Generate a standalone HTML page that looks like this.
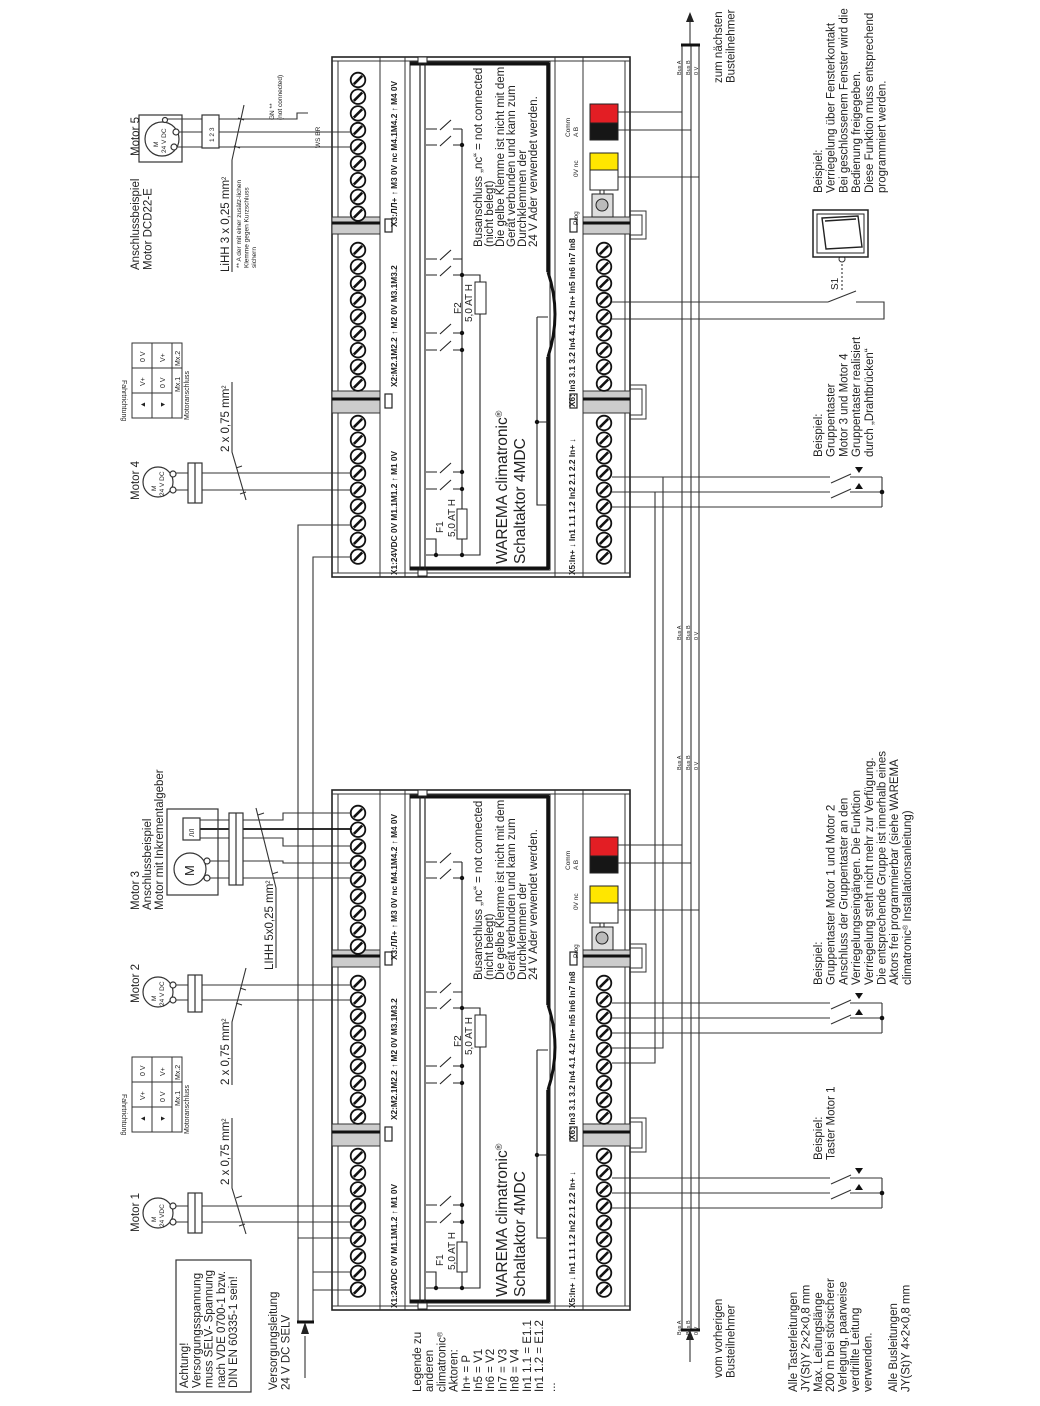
<!DOCTYPE html>
<html><head><meta charset="utf-8"><style>
html,body{margin:0;padding:0;background:#fff}
svg{display:block}
text{font-family:"Liberation Sans",sans-serif;fill:#222}
.b{font-weight:bold;font-size:8.3px}
.s{font-size:11.5px}
.m{font-size:10px}
.t{font-size:6.5px}
</style></head><body>
<svg width="1040" height="1406" viewBox="0 0 1040 1406" xmlns="http://www.w3.org/2000/svg">
<defs>
<g id="tm"><circle r="7.3" fill="#fff" stroke="#111" stroke-width="1.8"/><line x1="-4.2" y1="4.2" x2="4.2" y2="-4.2" stroke="#111" stroke-width="2.6"/></g>
<g id="c9"><use href="#tm" y="0"/><use href="#tm" y="16.7"/><use href="#tm" y="33.4"/><use href="#tm" y="50.1"/><use href="#tm" y="66.8"/><use href="#tm" y="83.5"/><use href="#tm" y="100.2"/><use href="#tm" y="116.9"/><use href="#tm" y="133.6"/></g>
<g id="dev">
<rect x="332" y="0" width="298" height="520" fill="#fff" stroke="#222" stroke-width="1.6"/>
<g stroke="#333" stroke-width="1" fill="none">
<line x1="332" y1="4" x2="630" y2="4"/><line x1="332" y1="516" x2="630" y2="516"/>
<line x1="338" y1="4" x2="338" y2="516"/><line x1="380" y1="0" x2="380" y2="520"/><line x1="405" y1="0" x2="405" y2="520"/>
<line x1="555" y1="0" x2="555" y2="520"/><line x1="583" y1="0" x2="583" y2="520"/><line x1="625" y1="4" x2="625" y2="516"/>
</g>
<rect x="332" y="160" width="48" height="17" fill="#ccc" stroke="#333"/><line x1="332" y1="166" x2="380" y2="166" stroke="#111" stroke-width="3"/>
<rect x="332" y="334" width="48" height="22" fill="#ccc" stroke="#333"/><line x1="332" y1="342" x2="380" y2="342" stroke="#111" stroke-width="3"/>
<rect x="583" y="160" width="47" height="17" fill="#ccc" stroke="#333"/><line x1="583" y1="166" x2="630" y2="166" stroke="#111" stroke-width="3"/>
<rect x="583" y="334" width="47" height="22" fill="#ccc" stroke="#333"/><line x1="583" y1="342" x2="630" y2="342" stroke="#111" stroke-width="3"/>
<path d="M630 154 H646 V182 H630 M630 158 H642 V178 H630" fill="none" stroke="#333"/>
<path d="M630 328 H646 V362 H630 M630 332 H642 V358 H630" fill="none" stroke="#333"/>
<rect x="385" y="162" width="7" height="13" fill="#fff" stroke="#222" stroke-width="1.2"/>
<rect x="385" y="337" width="7" height="14" fill="#fff" stroke="#222" stroke-width="1.2"/>
<rect x="570" y="162" width="7" height="13" fill="#fff" stroke="#222" stroke-width="1.2"/>
<rect x="570" y="337" width="7" height="14" fill="#fff" stroke="#222" stroke-width="1.2"/>
<rect x="410" y="5" width="140" height="508" fill="none" stroke="#222"/>
<line x1="410" y1="7" x2="549" y2="7" stroke="#111" stroke-width="3"/>
<line x1="410" y1="511" x2="549" y2="511" stroke="#111" stroke-width="3"/>
<line x1="548" y1="6" x2="548" y2="215" stroke="#111" stroke-width="3.5"/>
<line x1="548" y1="300" x2="548" y2="512" stroke="#111" stroke-width="3.5"/>
<path d="M548 215 Q562 257 548 300" fill="none" stroke="#111" stroke-width="3"/>
<line x1="420" y1="5" x2="420" y2="513" stroke="#222" stroke-width="1.2"/><line x1="425" y1="5" x2="425" y2="513" stroke="#222" stroke-width="1.2"/>
<rect x="418" y="0" width="9" height="6" fill="#fff" stroke="#222"/><rect x="418" y="513" width="9" height="6" fill="#fff" stroke="#222"/>
<g stroke="#222" stroke-width="1.1" fill="none">
<path d="M426 72H437M440 73L451 63M453 72H462"/><path d="M426 88H437M440 89L451 79M453 88H462"/>
<path d="M426 202H437M440 203L451 193M453 202H462"/><path d="M426 218H437M440 219L451 209M453 218H462"/>
<path d="M426 276H437M440 277L451 267M453 276H462"/><path d="M426 293H437M440 294L451 284M453 293H462"/>
<path d="M426 415H437M440 416L451 406M453 415H462"/><path d="M426 432H437M440 433L451 423M453 432H462"/>
<line x1="462" y1="72" x2="462" y2="498"/>
<path d="M426 482H436V498M426 498H480V257M480 225V218H462"/>
<path d="M537 260H548M537 260V448H548M537 365H548"/>
</g>
<rect x="457" y="452" width="10" height="30" fill="#fff" stroke="#222"/>
<rect x="475" y="225" width="11" height="32" fill="#fff" stroke="#222"/>
<g fill="#111"><circle cx="462" cy="88" r="2.2"/><circle cx="462" cy="218" r="2.2"/><circle cx="462" cy="276" r="2.2"/><circle cx="462" cy="293" r="2.2"/><circle cx="462" cy="415" r="2.2"/><circle cx="462" cy="432" r="2.2"/><circle cx="462" cy="498" r="2.2"/><circle cx="436" cy="498" r="2.2"/><circle cx="537" cy="365" r="2.2"/></g>
<rect x="590" y="47" width="28" height="19" fill="#e31e24" stroke="#222"/>
<rect x="590" y="66" width="28" height="17" fill="#161616" stroke="#222"/>
<rect x="590" y="96" width="28" height="17" fill="#ffe600" stroke="#222"/>
<rect x="590" y="113" width="28" height="20" fill="#fff" stroke="#222"/>
<rect x="592" y="137" width="21" height="23" fill="#ddd" stroke="#222"/>
<circle cx="602" cy="148" r="6" fill="#bbb" stroke="#222"/>
<rect x="600" y="133" width="4" height="4" fill="#fff" stroke="#222"/>
<use href="#c9" x="358" y="23"/><use href="#c9" x="358" y="193"/><use href="#c9" x="358" y="366"/>
<use href="#c9" x="604" y="193"/><use href="#c9" x="604" y="366"/>
</g>
</defs>

<use href="#dev" y="790"/>
<use href="#dev" y="57"/>

<g transform="translate(0,790)">
<text class="b" transform="translate(397,518) rotate(-90)">X1:24VDC     0V     M1.1M1.2  ↑  M1  0V</text>
<text class="b" transform="translate(397,330) rotate(-90)">X2:M2.1M2.2  ↑  M2  0V M3.1M3.2</text>
<text class="b" transform="translate(397,170) rotate(-90)">X3:ЛЛ+ ↑ M3  0V  nc  M4.1M4.2  ↑  M4  0V</text>
<text class="b" transform="translate(575,518) rotate(-90)">X5:In+ ↓  In1 1.1 1.2  In2 2.1 2.2  In+ ↓</text>
<text class="b" transform="translate(575,350) rotate(-90)">X6: In3 3.1 3.2  In4 4.1 4.2  In+ In5 In6 In7 In8</text>
<text class="t" transform="translate(578,168) rotate(-90)">Prog</text>
<text class="t" transform="translate(578,120) rotate(-90)">0V    nc</text>
<text class="t" transform="translate(570,80) rotate(-90)">Comm</text>
<text class="t" transform="translate(578,80) rotate(-90)">A    B</text>
<text class="s" transform="translate(482,190) rotate(-90)"><tspan x="0">Busanschluss „nc“ = not connected</tspan><tspan x="0" dy="11">(nicht belegt)</tspan><tspan x="0" dy="11">Die gelbe Klemme ist nicht mit dem</tspan><tspan x="0" dy="11">Gerät verbunden und kann zum</tspan><tspan x="0" dy="11">Durchklemmen der</tspan><tspan x="0" dy="11">24 V Ader verwendet werden.</tspan></text>
<text style="font-size:15.5px" transform="translate(507,507) rotate(-90)">WAREMA climatronic<tspan baseline-shift="super" font-size="9">®</tspan></text>
<text style="font-size:15.5px" transform="translate(525,507) rotate(-90)">Schaltaktor 4MDC</text>
<text class="m" transform="translate(461,257) rotate(-90)">F2</text>
<text class="m" transform="translate(472,265) rotate(-90)">5,0 AT H</text>
<text class="m" transform="translate(443,476) rotate(-90)">F1</text>
<text class="m" transform="translate(455,480) rotate(-90)">5,0 AT H</text>
</g>
<g transform="translate(0,57)">
<text class="b" transform="translate(397,518) rotate(-90)">X1:24VDC     0V     M1.1M1.2  ↑  M1  0V</text>
<text class="b" transform="translate(397,330) rotate(-90)">X2:M2.1M2.2  ↑  M2  0V M3.1M3.2</text>
<text class="b" transform="translate(397,170) rotate(-90)">X3:ЛЛ+ ↑ M3  0V  nc  M4.1M4.2  ↑  M4  0V</text>
<text class="b" transform="translate(575,518) rotate(-90)">X5:In+ ↓  In1 1.1 1.2  In2 2.1 2.2  In+ ↓</text>
<text class="b" transform="translate(575,350) rotate(-90)">X6: In3 3.1 3.2  In4 4.1 4.2  In+ In5 In6 In7 In8</text>
<text class="t" transform="translate(578,168) rotate(-90)">Prog</text>
<text class="t" transform="translate(578,120) rotate(-90)">0V    nc</text>
<text class="t" transform="translate(570,80) rotate(-90)">Comm</text>
<text class="t" transform="translate(578,80) rotate(-90)">A    B</text>
<text class="s" transform="translate(482,190) rotate(-90)"><tspan x="0">Busanschluss „nc“ = not connected</tspan><tspan x="0" dy="11">(nicht belegt)</tspan><tspan x="0" dy="11">Die gelbe Klemme ist nicht mit dem</tspan><tspan x="0" dy="11">Gerät verbunden und kann zum</tspan><tspan x="0" dy="11">Durchklemmen der</tspan><tspan x="0" dy="11">24 V Ader verwendet werden.</tspan></text>
<text style="font-size:15.5px" transform="translate(507,507) rotate(-90)">WAREMA climatronic<tspan baseline-shift="super" font-size="9">®</tspan></text>
<text style="font-size:15.5px" transform="translate(525,507) rotate(-90)">Schaltaktor 4MDC</text>
<text class="m" transform="translate(461,257) rotate(-90)">F2</text>
<text class="m" transform="translate(472,265) rotate(-90)">5,0 AT H</text>
<text class="m" transform="translate(443,476) rotate(-90)">F1</text>
<text class="m" transform="translate(455,480) rotate(-90)">5,0 AT H</text>
</g>

<g stroke="#333" stroke-width="1.1" fill="none">
<line x1="682" y1="45" x2="682" y2="1330"/><line x1="691" y1="45" x2="691" y2="1330"/><line x1="699" y1="45" x2="699" y2="1330"/>
<line x1="690" y1="45" x2="690" y2="18"/><line x1="690" y1="1362" x2="690" y2="1336"/>
<path d="M618 112H682M618 130H691M618 177H699"/>
<path d="M618 845H682M618 863H691M618 910H699"/>
<path d="M298 1322V525H352M313 1322V557H352M298 1238H352M313 1272H352M313 1290H352"/>
<line x1="305" y1="1378" x2="305" y2="1336"/>
<path d="M173 1206H352M173 1222H352M173 473H352M173 490H352M173 985H352M173 1000H352"/>
<path d="M232 1118V1188L246 1234M236 1198l6 -2M239 1226l6 -2"/>
<path d="M232 382V452L246 500M236 468l6 -2M240 494l6 -2"/>
<path d="M232 1085V1022L246 968M236 1003l6 2M240 988l6 2"/>
<path d="M200 820H283V813H352M200 838H283V846H352M200 861H283V863H352M200 878H352"/>
<path d="M256 808L276 888M258 815l6-2M272 874l6-2M276 888V968"/>
<path d="M165 119H297V113H308M176 132H352M174 147H352"/>
<path d="M244 105L232 160V272M238 118l6 2M234 146l6 2"/>
<path d="M612 1003H830M850 1003H882M612 1018H830M850 1018H882M612 1033H882M882 1003V1033"/>
<path d="M831 1009L851 1000M831 1024L851 1015"/>
<path d="M612 1178H830M850 1178H882M612 1193H830M850 1193H882M612 1208H882M882 1178V1208"/>
<path d="M831 1184L851 1175M831 1199L851 1190"/>
<path d="M612 1048H663V477H612M612 1063H655V492H612"/>
<path d="M612 477H830M850 477H882M612 492H830M850 492H882M612 507H882M882 477V507"/>
<path d="M831 483L851 474M831 498L851 489"/>
<path d="M612 302H828M856 302H884V319H612M828 302L856 291"/>
<path d="M842 290V262" stroke-dasharray="2 2"/>
</g>
<g stroke="#111" stroke-width="3"><line x1="681" y1="45" x2="700" y2="45"/><line x1="681" y1="1330" x2="700" y2="1330"/><line x1="297" y1="1322" x2="314" y2="1322"/><line x1="200" y1="829" x2="352" y2="829" stroke-width="1.8"/></g>
<polygon points="690,12 686,22 694,22" fill="#222"/>
<polygon points="690,1330 686,1340 694,1340" fill="#222"/>
<polygon points="305,1322 301,1334 309,1334" fill="#222"/>
<g fill="#111"><circle cx="882" cy="1018" r="2.3"/><circle cx="882" cy="1193" r="2.3"/><circle cx="882" cy="492" r="2.3"/>
<polygon points="855,993 863,993 859,999"/><polygon points="855,1015 863,1015 859,1009"/>
<polygon points="855,1168 863,1168 859,1174"/><polygon points="855,1190 863,1190 859,1184"/>
<polygon points="855,467 863,467 859,473"/><polygon points="855,489 863,489 859,483"/></g>
<circle cx="842" cy="259" r="3" fill="#fff" stroke="#333"/>
<rect x="813" y="210" width="55" height="47" fill="#fff" stroke="#222" stroke-width="1.5"/>
<rect x="817" y="214" width="47" height="39" fill="none" stroke="#222"/>
<path d="M822 218L858 216L862 247L826 249Z M825 221L856 219" fill="none" stroke="#222" stroke-width="1.4"/>
<text class="m" transform="translate(838,290) rotate(-90)">S1</text>

<g class="t" style="font-size:5.5px">
<text transform="translate(681,75) rotate(-90)">Bus A</text><text transform="translate(690,75) rotate(-90)">Bus B</text><text transform="translate(698,75) rotate(-90)">0 V</text>
<text transform="translate(681,640) rotate(-90)">Bus A</text><text transform="translate(690,640) rotate(-90)">Bus B</text><text transform="translate(698,640) rotate(-90)">0 V</text>
<text transform="translate(681,770) rotate(-90)">Bus A</text><text transform="translate(690,770) rotate(-90)">Bus B</text><text transform="translate(698,770) rotate(-90)">0 V</text>
<text transform="translate(681,1335) rotate(-90)">Bus A</text><text transform="translate(690,1335) rotate(-90)">Bus B</text><text transform="translate(698,1335) rotate(-90)">0 V</text>
</g>

<g stroke="#333" stroke-width="1.2" fill="#fff">
<circle cx="158" cy="1213" r="15"/><circle cx="173" cy="1206" r="3"/><circle cx="173" cy="1222" r="3"/><rect x="188" y="1193" width="14" height="40"/><line x1="195" y1="1193" x2="195" y2="1233"/>
<circle cx="158" cy="992" r="15"/><circle cx="173" cy="985" r="3"/><circle cx="173" cy="1000" r="3"/><rect x="188" y="975" width="14" height="37"/><line x1="195" y1="975" x2="195" y2="1012"/>
<circle cx="158" cy="482" r="15"/><circle cx="173" cy="474" r="3"/><circle cx="173" cy="490" r="3"/><rect x="188" y="463" width="14" height="40"/><line x1="195" y1="463" x2="195" y2="503"/>
<rect x="139" y="115" width="43" height="47" fill="none"/><circle cx="162" cy="139" r="17"/><circle cx="165" cy="120" r="2.5"/><circle cx="176" cy="132" r="3"/><circle cx="174" cy="147" r="3"/><rect x="202" y="115" width="17" height="33"/>
<rect x="167" y="809" width="51" height="86" fill="none"/><circle cx="190" cy="869" r="16"/><circle cx="207" cy="861" r="3"/><circle cx="207" cy="878" r="3"/><rect x="183" y="818" width="17" height="22"/><rect x="229" y="813" width="14" height="72"/><line x1="236" y1="813" x2="236" y2="885"/>
</g>
<g class="t">
<text transform="translate(156,1222) rotate(-90)">M</text><text transform="translate(164,1227) rotate(-90)">24 VDC</text>
<text transform="translate(156,1001) rotate(-90)">M</text><text transform="translate(164,1006) rotate(-90)">24 V DC</text>
<text transform="translate(156,491) rotate(-90)">M</text><text transform="translate(164,496) rotate(-90)">24 V DC</text>
<text transform="translate(158,147) rotate(-90)">M</text><text transform="translate(166,153) rotate(-90)">24 V DC</text>
<text transform="translate(214,142) rotate(-90)">1  2  3</text>
</g>
<text style="font-size:13px" transform="translate(194,876) rotate(-90)">M</text>
<text class="t" transform="translate(194,837) rotate(-90)">ЛЛ</text>

<g id="tb" stroke="#333" fill="none">
<rect x="132" y="343" width="50" height="75"/><line x1="152" y1="343" x2="152" y2="418"/><line x1="172" y1="343" x2="172" y2="418"/><line x1="132" y1="368" x2="182" y2="368"/><line x1="132" y1="393" x2="172" y2="393"/>
</g>
<g class="t" style="font-size:7px">
<text transform="translate(145,362) rotate(-90)">0 V</text><text transform="translate(165,362) rotate(-90)">V+</text>
<text transform="translate(145,386) rotate(-90)">V+</text><text transform="translate(165,388) rotate(-90)">0 V</text>
<text transform="translate(145,408) rotate(-90)">▲</text><text transform="translate(165,408) rotate(-90)">▼</text>
<text transform="translate(180,366) rotate(-90)">Mx.2</text><text transform="translate(180,392) rotate(-90)">Mx.1</text>
<text transform="translate(189,420) rotate(-90)">Motoranschluss</text>
<text transform="translate(122,380) rotate(90)">Fahrtrichtung</text>
</g>
<use href="#tb" y="714"/>
<g class="t" style="font-size:7px" transform="translate(0,714)">
<text transform="translate(145,362) rotate(-90)">0 V</text><text transform="translate(165,362) rotate(-90)">V+</text>
<text transform="translate(145,386) rotate(-90)">V+</text><text transform="translate(165,388) rotate(-90)">0 V</text>
<text transform="translate(145,408) rotate(-90)">▲</text><text transform="translate(165,408) rotate(-90)">▼</text>
<text transform="translate(180,366) rotate(-90)">Mx.2</text><text transform="translate(180,392) rotate(-90)">Mx.1</text>
<text transform="translate(189,420) rotate(-90)">Motoranschluss</text>
<text transform="translate(122,380) rotate(90)">Fahrtrichtung</text>
</g>

<g class="s">
<text transform="translate(139,1232) rotate(-90)">Motor 1</text>
<text transform="translate(139,1003) rotate(-90)">Motor 2</text>
<text transform="translate(139,910) rotate(-90)"><tspan x="0">Motor 3</tspan><tspan x="0" dy="12">Anschlussbeispiel</tspan><tspan x="0" dy="12">Motor mit Inkrementalgeber</tspan></text>
<text transform="translate(139,500) rotate(-90)">Motor 4</text>
<text transform="translate(139,270) rotate(-90)"><tspan x="0">Anschlussbeispiel</tspan><tspan x="0" dy="12.5">Motor DCD22-E</tspan></text>
<text transform="translate(139,156) rotate(-90)">Motor 5</text>
<text transform="translate(229,1185) rotate(-90)">2 x 0,75 mm<tspan baseline-shift="super" font-size="6">2</tspan></text>
<text transform="translate(229,1085) rotate(-90)">2 x 0,75 mm<tspan baseline-shift="super" font-size="6">2</tspan></text>
<text transform="translate(229,452) rotate(-90)">2 x 0,75 mm<tspan baseline-shift="super" font-size="6">2</tspan></text>
<text transform="translate(273,970) rotate(-90)">LIHH 5x0,25 mm<tspan baseline-shift="super" font-size="6">2</tspan></text>
<text transform="translate(229,272) rotate(-90)">LiHH 3 x 0,25 mm<tspan baseline-shift="super" font-size="6">2</tspan></text>
<text transform="translate(188,1388) rotate(-90)"><tspan x="0">Achtung!</tspan><tspan x="0" dy="12.3">Versorgungsspannung</tspan><tspan x="0" dy="12.3">muss SELV- Spannung</tspan><tspan x="0" dy="12.3">nach VDE 0700-1 bzw.</tspan><tspan x="0" dy="12.3">DIN EN 60335-1 sein!</tspan></text>
<text transform="translate(277,1390) rotate(-90)"><tspan x="0">Versorgungsleitung</tspan><tspan x="0" dy="12.3">24 V DC SELV</tspan></text>
<text transform="translate(421,1392) rotate(-90)"><tspan x="0">Legende zu</tspan><tspan x="0" dy="12.2">anderen</tspan><tspan x="0" dy="12.2">climatronic<tspan baseline-shift="super" font-size="7">®</tspan></tspan><tspan x="0" dy="12.2">Aktoren:</tspan><tspan x="0" dy="12.2">In+ = P</tspan><tspan x="0" dy="12.2">In5 = V1</tspan><tspan x="0" dy="12.2">In6 = V2</tspan><tspan x="0" dy="12.2">In7 = V3</tspan><tspan x="0" dy="12.2">In8 = V4</tspan><tspan x="0" dy="12.2">In1 1.1 = E1.1</tspan><tspan x="0" dy="12.2">In1 1.2 = E1.2</tspan><tspan x="0" dy="12.2">...</tspan></text>
<text transform="translate(722,1378) rotate(-90)"><tspan x="0">vom vorherigen</tspan><tspan x="0" dy="12.5">Busteilnehmer</tspan></text>
<text transform="translate(722,83) rotate(-90)"><tspan x="0">zum nächsten</tspan><tspan x="0" dy="12.5">Busteilnehmer</tspan></text>
<text transform="translate(797,1392) rotate(-90)"><tspan x="0">Alle Tasterleitungen</tspan><tspan x="0" dy="12.4">JY(St)Y 2×2×0,8 mm</tspan><tspan x="0" dy="12.4">Max. Leitungslänge</tspan><tspan x="0" dy="12.4">200 m bei störsicherer</tspan><tspan x="0" dy="12.4">Verlegung, paarweise</tspan><tspan x="0" dy="12.4">verdrillte Leitung</tspan><tspan x="0" dy="12.4">verwenden.</tspan></text>
<text transform="translate(897,1392) rotate(-90)"><tspan x="0">Alle Busleitungen</tspan><tspan x="0" dy="12.4">JY(St)Y 4×2×0,8 mm</tspan></text>
<text transform="translate(822,1160) rotate(-90)"><tspan x="0">Beispiel:</tspan><tspan x="0" dy="12.5">Taster Motor 1</tspan></text>
<text transform="translate(822,985) rotate(-90)"><tspan x="0">Beispiel:</tspan><tspan x="0" dy="12.7">Gruppentaster Motor 1 und Motor 2</tspan><tspan x="0" dy="12.7">Anschluss der Gruppentaster an den</tspan><tspan x="0" dy="12.7">Verriegelungseingängen. Die Funktion</tspan><tspan x="0" dy="12.7">Verriegelung steht nicht mehr zur Verfügung.</tspan><tspan x="0" dy="12.7">Die entsprechende Gruppe ist innerhalb eines</tspan><tspan x="0" dy="12.7">Aktors frei programmierbar (siehe WAREMA</tspan><tspan x="0" dy="12.7">climatronic<tspan baseline-shift="super" font-size="7">®</tspan> Installationsanleitung)</tspan></text>
<text transform="translate(822,457) rotate(-90)"><tspan x="0">Beispiel:</tspan><tspan x="0" dy="12.7">Gruppentaster</tspan><tspan x="0" dy="12.7">Motor 3 und Motor 4</tspan><tspan x="0" dy="12.7">Gruppentaster realisiert</tspan><tspan x="0" dy="12.7">durch „Drahtbrücken“</tspan></text>
<text transform="translate(822,193) rotate(-90)"><tspan x="0">Beispiel:</tspan><tspan x="0" dy="12.7">Verriegelung über Fensterkontakt</tspan><tspan x="0" dy="12.7">Bei geschlossenem Fenster wird die</tspan><tspan x="0" dy="12.7">Bedienung freigegeben.</tspan><tspan x="0" dy="12.7">Diese Funktion muss entsprechend</tspan><tspan x="0" dy="12.7">programmiert werden.</tspan></text>
</g>
<rect x="176" y="1260" width="75" height="132" fill="none" stroke="#333" stroke-width="1.2"/>
<g class="t">
<text transform="translate(241,268) rotate(-90)"><tspan x="0">** A der mit einer zusätz-lichen</tspan><tspan x="0" dy="7.5">Klemme gegen Kurzschluss</tspan><tspan x="0" dy="7.5">sichern</tspan></text>
<text transform="translate(274,120) rotate(-90)"><tspan x="0">GN **</tspan><tspan x="0" dy="8">(not connected)</tspan></text>
<text transform="translate(320,148) rotate(-90)">WS  BR</text>
</g>
</svg>
</body></html>
